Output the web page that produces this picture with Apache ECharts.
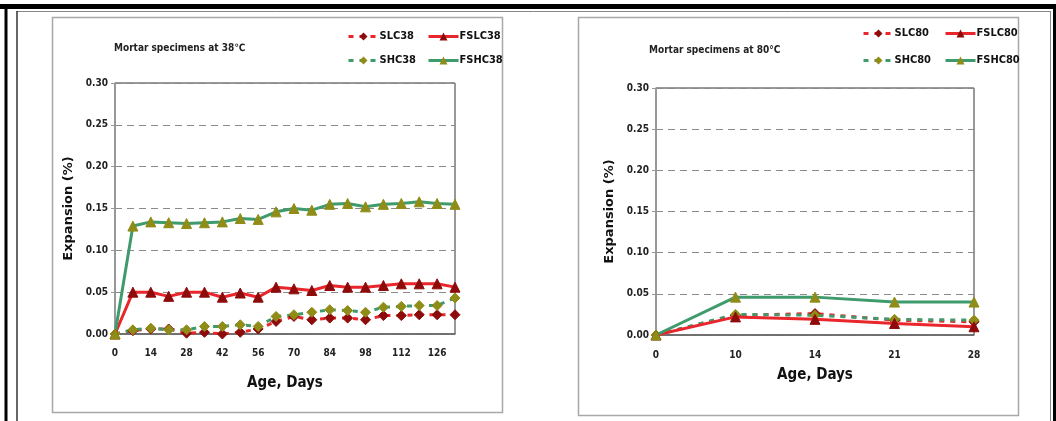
<!DOCTYPE html>
<html>
<head>
<meta charset="utf-8">
<script src="https://cdn.jsdelivr.net/npm/echarts@6/dist/echarts.min.js"></script>
<style>
html,body{margin:0;padding:0;background:#fff;}
#chart{width:1056px;height:421px;}
</style>
</head>
<body>
<div id="chart"></div>
<script>
// ---- data: left chart (38 °C) ----
const days38 = [0,7,14,21,28,35,42,49,56,63,70,77,84,91,98,105,112,119,126,133];
const SLC38  = [0,0.004,0.006,0.006,0.001,0.002,0.000,0.002,0.006,0.015,0.021,0.017,0.019,0.019,0.017,0.022,0.022,0.023,0.023,0.023];
const FSLC38 = [0,0.050,0.050,0.045,0.050,0.050,0.044,0.049,0.044,0.056,0.054,0.052,0.058,0.056,0.056,0.058,0.060,0.060,0.060,0.056];
const SHC38  = [0,0.005,0.007,0.005,0.005,0.009,0.009,0.011,0.009,0.021,0.023,0.026,0.029,0.028,0.026,0.032,0.033,0.034,0.034,0.043];
const FSHC38 = [0,0.129,0.134,0.133,0.132,0.133,0.134,0.138,0.137,0.146,0.150,0.148,0.155,0.156,0.152,0.155,0.156,0.158,0.156,0.155];
// ---- data: right chart (80 °C) ----
const days80 = ['0','10','14','21','28'];
const SLC80  = [0,0.024,0.026,0.018,0.016];
const FSLC80 = [0,0.022,0.019,0.014,0.010];
const SHC80  = [0,0.025,0.024,0.019,0.018];
const FSHC80 = [0,0.046,0.046,0.040,0.040];

const RED = '#e8262b', DRED = '#8e0b0b', GREEN = '#3f9a6c', OLIVE = '#8f8c17';
const NARROW = '"DejaVu Sans Condensed","Liberation Sans Narrow","Liberation Sans",sans-serif';

function pairs(xs, ys){ return xs.map((x,i)=>[x, ys[i]]); }

function mkSeries(name, data, idx, dashed, lineColor, symColor, symbol){
  return {
    name, type:'line', data, xAxisIndex:idx, yAxisIndex:idx,
    symbol, symbolSize: 10,
    lineStyle:{color:lineColor, width:3, type: dashed?[5,6]:'solid'},
    itemStyle:{color:symColor, borderColor:symColor},
    z: dashed?2:3, animation:false
  };
}

function yAxis(idx){
  return {
    type:'value', gridIndex:idx, min:0, max:0.30, interval:0.05,
    name:'Expansion (%)', nameLocation:'middle', nameGap:40,
    nameTextStyle:{fontFamily:'"DejaVu Sans",sans-serif', fontWeight:'bold', fontSize:13, color:'#111'},
    axisLine:{show:true, lineStyle:{color:'#999', width:1.5}},
    axisTick:{show:true, length:4, lineStyle:{color:'#999'}},
    axisLabel:{margin:7, fontFamily:NARROW, fontWeight:'bold', fontSize:10, color:'#222',
      formatter:v=>v.toFixed(2)},
    splitLine:{show:true, lineStyle:{color:'#8a8a8a', type:[7,5], width:1}}
  };
}

function legend(name, left, top){
  return {data:[name], left, top, itemWidth:30, itemHeight:10, padding:0,
    lineStyle:{width:3},
    textStyle:{fontFamily:NARROW, fontWeight:'bold', fontSize:11, color:'#111', padding:[0,0,0,-4]}};
}

const chart = echarts.init(document.getElementById('chart'), null, {renderer:'canvas'});
chart.setOption({
  backgroundColor:'#fff',
  animation:false,
  grid:[
    {left:115, right:601, top:83, bottom:87, show:true, borderColor:'#333', borderWidth:1, backgroundColor:'#fff'},
    {left:656, right:82, top:88, bottom:86, show:true, borderColor:'#333', borderWidth:1, backgroundColor:'#fff'}
  ],
  xAxis:[
    {type:'value', gridIndex:0, min:0, max:133, interval:14,
     name:'Age, Days', nameLocation:'middle', nameGap:42,
     nameTextStyle:{fontFamily:NARROW, fontWeight:'bold', fontSize:15, color:'#111'},
     axisLine:{lineStyle:{color:'#666', width:1.5}}, axisTick:{show:false},
     axisLabel:{margin:14, fontFamily:NARROW, fontWeight:'bold', fontSize:10, color:'#222',
       formatter:v=> (v%14===0 ? String(v) : '')},
     splitLine:{show:false}},
    {type:'category', gridIndex:1, data:days80, boundaryGap:false,
     name:'Age, Days', nameLocation:'middle', nameGap:33,
     nameTextStyle:{fontFamily:NARROW, fontWeight:'bold', fontSize:15, color:'#111'},
     axisLine:{lineStyle:{color:'#666', width:1.5}}, axisTick:{show:false},
     axisLabel:{margin:15, fontFamily:NARROW, fontWeight:'bold', fontSize:10, color:'#222'},
     splitLine:{show:false}}
  ],
  yAxis:[yAxis(0), yAxis(1)],
  legend:[
    legend('SLC38', 347, 31), legend('FSLC38', 427, 31),
    legend('SHC38', 347, 55), legend('FSHC38', 427, 55),
    legend('SLC80', 862, 28), legend('FSLC80', 944, 28),
    legend('SHC80', 862, 55), legend('FSHC80', 944, 55)
  ],
  series:[
    mkSeries('SLC38',  pairs(days38,SLC38),  0, true,  RED,   DRED,  'diamond'),
    mkSeries('SHC38',  pairs(days38,SHC38),  0, true,  GREEN, OLIVE, 'diamond'),
    mkSeries('FSLC38', pairs(days38,FSLC38), 0, false, RED,   DRED,  'triangle'),
    mkSeries('FSHC38', pairs(days38,FSHC38), 0, false, GREEN, OLIVE, 'triangle'),
    mkSeries('SLC80',  SLC80,  1, true,  RED,   DRED,  'diamond'),
    mkSeries('SHC80',  SHC80,  1, true,  GREEN, OLIVE, 'diamond'),
    mkSeries('FSLC80', FSLC80, 1, false, RED,   DRED,  'triangle'),
    mkSeries('FSHC80', FSHC80, 1, false, GREEN, OLIVE, 'triangle')
  ],
  graphic:[
    {type:'rect', shape:{x:0,y:4,width:1056,height:5}, style:{fill:'#000'}, silent:true, z:100},
    {type:'line', shape:{x1:17,y1:11.5,x2:1050,y2:11.5}, style:{stroke:'#888',lineWidth:1}, silent:true, z:100},
    {type:'rect', shape:{x:4.5,y:4,width:3,height:417}, style:{fill:'#000'}, silent:true, z:100},
    {type:'line', shape:{x1:17,y1:11,x2:17,y2:421}, style:{stroke:'#000',lineWidth:1.2}, silent:true, z:100},
    {type:'line', shape:{x1:1050.5,y1:11,x2:1050.5,y2:421}, style:{stroke:'#888',lineWidth:1}, silent:true, z:100},
    {type:'rect', shape:{x:1053,y:4,width:3,height:417}, style:{fill:'#000'}, silent:true, z:100},
    {type:'rect', shape:{x:52.5,y:17.5,width:450,height:395}, style:{fill:'none',stroke:'#a8a8a8',lineWidth:1.5}, silent:true, z:-1},
    {type:'rect', shape:{x:578.5,y:17.5,width:440,height:398}, style:{fill:'none',stroke:'#a8a8a8',lineWidth:1.5}, silent:true, z:-1},
    {type:'text', left:114, top:43, style:{text:'Mortar specimens at 38℃', fontFamily:NARROW, fontSize:10, fontWeight:'bold', fill:'#222'}, silent:true},
    {type:'text', left:649, top:45, style:{text:'Mortar specimens at 80°C', fontFamily:NARROW, fontSize:10, fontWeight:'bold', fill:'#222'}, silent:true}
  ]
});
</script>
</body>
</html>
